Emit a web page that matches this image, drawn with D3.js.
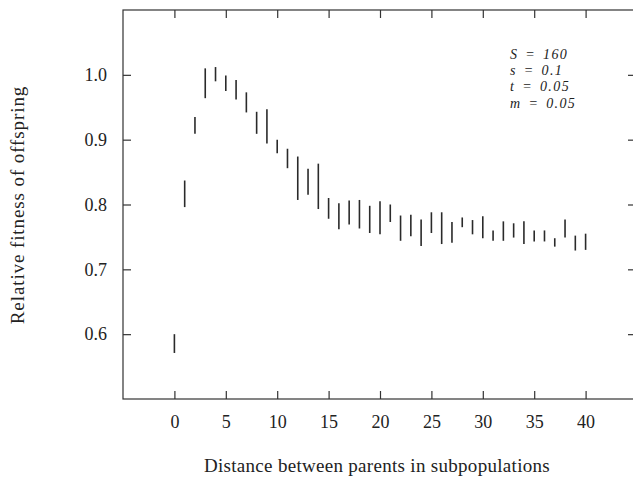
<!DOCTYPE html>
<html>
<head>
<meta charset="utf-8">
<script src="https://cdn.jsdelivr.net/npm/d3@7"></script>
<style>
  body { margin: 0; background: #fff; }
  text { font-family: "Liberation Serif", "DejaVu Serif", serif; fill: #222; }
</style>
</head>
<body>
<div class="graph"></div>
<script>
// distance between parents, and the low / high end of each fitness range
let distance = [0, 1, 2, 3, 4, 5, 6, 7, 8, 9, 10, 11, 12, 13, 14, 15, 16, 17, 18, 19, 20,
                21, 22, 23, 24, 25, 26, 27, 28, 29, 30, 31, 32, 33, 34, 35, 36, 37, 38, 39, 40];
let fitLow = [0.571, 0.796, 0.909, 0.964, 0.990, 0.975, 0.962, 0.942, 0.909, 0.894, 0.879,
              0.856, 0.807, 0.815, 0.793, 0.778, 0.762, 0.769, 0.763, 0.756, 0.754,
              0.773, 0.744, 0.751, 0.736, 0.756, 0.739, 0.741, 0.765, 0.754, 0.748,
              0.744, 0.744, 0.749, 0.739, 0.743, 0.743, 0.735, 0.749, 0.729, 0.730];
let fitHigh = [0.600, 0.837, 0.935, 1.010, 1.012, 0.999, 0.992, 0.973, 0.943, 0.947, 0.900,
               0.886, 0.874, 0.855, 0.863, 0.810, 0.802, 0.806, 0.807, 0.798, 0.805,
               0.800, 0.783, 0.784, 0.777, 0.788, 0.788, 0.773, 0.780, 0.776, 0.782,
               0.760, 0.774, 0.771, 0.774, 0.760, 0.760, 0.748, 0.777, 0.752, 0.755];
let xTicks = [0, 5, 10, 15, 20, 25, 30, 35, 40];
let yTicks = [0.6, 0.7, 0.8, 0.9, 1.0];
let params = ["S = 160", "s = 0.1", "t = 0.05", "m = 0.05"];

let width = 633;
let height = 484;
let mLeft = 123, mRight = 637, mTop = 10, mBottom = 399;

let svg = d3.select('.graph')
    .append('svg')
    .attr('width', width)
    .attr('height', height);

let x = d3.scaleLinear().domain([-5, 45]).range([mLeft, mRight]);
let y = d3.scaleLinear().domain([0.5, 1.1]).range([mBottom, mTop]);

// cadre
svg.append('rect')
    .attr('x', mLeft)
    .attr('y', mTop)
    .attr('width', mRight - mLeft)
    .attr('height', mBottom - mTop)
    .attr('fill', 'none')
    .attr('stroke', '#333')
    .attr('stroke-width', 1.2);

// axes, ticks pointing inward
let gx = svg.append('g')
    .attr('transform', 'translate(0,' + mBottom + ')')
    .call(d3.axisBottom(x).tickValues(xTicks).tickSizeInner(-8).tickSizeOuter(0).tickPadding(16));
let gxTop = svg.append('g')
    .attr('transform', 'translate(0,' + mTop + ')')
    .call(d3.axisTop(x).tickValues(xTicks).tickSizeInner(-8).tickSizeOuter(0).tickFormat(''));
let gy = svg.append('g')
    .attr('transform', 'translate(' + mLeft + ',0)')
    .call(d3.axisLeft(y).tickValues(yTicks).tickSizeInner(-8).tickSizeOuter(0).tickPadding(16)
        .tickFormat(d3.format('.1f')));
let gyRight = svg.append('g')
    .attr('transform', 'translate(' + mRight + ',0)')
    .call(d3.axisRight(y).tickValues(yTicks).tickSizeInner(-9).tickSizeOuter(0).tickFormat(''));

[gx, gxTop, gy, gyRight].forEach(function (g) {
    g.select('.domain').remove();
    g.selectAll('.tick line').attr('stroke', '#333').attr('stroke-width', 1.2);
    g.selectAll('.tick text')
        .style('font-family', '"Liberation Serif", serif')
        .style('font-size', '18px')
        .attr('fill', '#222');
});

// les barres verticales
svg.append('g')
    .selectAll('line')
    .data(distance)
    .enter()
    .append('line')
    .attr('x1', function (d) { return x(d); })
    .attr('x2', function (d) { return x(d); })
    .attr('y1', function (d, i) { return y(fitLow[i]); })
    .attr('y2', function (d, i) { return y(fitHigh[i]); })
    .attr('stroke', '#2a2a2a')
    .attr('stroke-width', 1.6);

// titres des axes
svg.append('text')
    .attr('x', 377)
    .attr('y', 472)
    .attr('text-anchor', 'middle')
    .style('font-size', '19px')
    .style('letter-spacing', '0.3px')
    .text('Distance between parents in subpopulations');

svg.append('text')
    .attr('transform', 'translate(24,205) rotate(-90)')
    .attr('text-anchor', 'middle')
    .style('font-size', '19px')
    .style('letter-spacing', '0.9px')
    .text('Relative fitness of offspring');

// paramètres : un seul bloc de texte sur quatre lignes
svg.append('text')
    .attr('x', 510)
    .attr('y', 59)
    .style('font-size', '14px')
    .style('font-style', 'italic')
    .style('letter-spacing', '1.4px')
    .style('word-spacing', '2px')
    .selectAll('tspan')
    .data(params)
    .enter()
    .append('tspan')
    .attr('x', 510)
    .attr('dy', function (d, i) { return i === 0 ? 0 : 16.2; })
    .text(function (d) { return d; });
</script>
</body>
</html>
